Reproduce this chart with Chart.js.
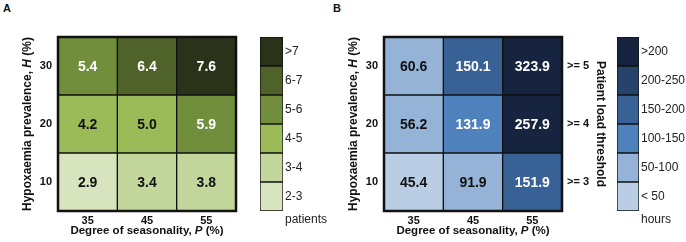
<!DOCTYPE html>
<html>
<head>
<meta charset="utf-8">
<script src="https://cdn.jsdelivr.net/npm/chart.js@4.4.0/dist/chart.umd.min.js"></script>
<style>
    body { margin: 0; background: #fff; }
    #wrap { position: relative; width: 686px; height: 242px; overflow: hidden; }
    canvas { position: absolute; top: 0; }
    .panel { position: absolute; top: 2px; font: bold 11px "Liberation Sans", Arial, sans-serif; color: #111; }
</style>
</head>
<body>
<div id="wrap">
    <div class="panel" style="left:3px">A</div>
    <div class="panel" style="left:333px">B</div>
    <canvas id="heat-a" style="left:0px" width="245" height="242"></canvas>
    <canvas id="bar-a" style="left:250px" width="90" height="242"></canvas>
    <canvas id="heat-b" style="left:343px" width="270" height="242"></canvas>
    <canvas id="bar-b" style="left:613px" width="73" height="242"></canvas>
</div>
<script>
const FONT = '"Liberation Sans", Arial, sans-serif';

// Axis categories
const seasonality = ["35", "45", "55"];      // P (%)
const prevalence = ["10", "20", "30"];       // H (%), bottom row first
const thresholds = [">= 3", ">= 4", ">= 5"]; // patient load threshold per row

// Panel A: patients (rows follow prevalence)
const patients10 = [2.9, 3.4, 3.8];
const patients20 = [4.2, 5.0, 5.9];
const patients30 = [5.4, 6.4, 7.6];

// Panel B: hours
const hours10 = [45.4, 91.9, 151.9];
const hours20 = [56.2, 131.9, 257.9];
const hours30 = [60.6, 150.1, 323.9];

// Colour bins (lowest first)
const patientBins = ["2-3", "3-4", "4-5", "5-6", "6-7", ">7"];
const patientEdges = [3, 4, 5, 6, 7];
const patientColors = ["#d7e4bd", "#c3d69b", "#9bbb59", "#718e3c", "#4f6229", "#2a331a"];

const hourBins = ["< 50", "50-100", "100-150", "150-200", "200-250", ">200"];
const hourEdges = [50, 100, 150, 200, 250];
const hourColors = ["#b9cde5", "#95b3d7", "#4f81bd", "#386296", "#26436c", "#16243f"];

function binIndex(value, edges) {
    let i = 0;
    while (i < edges.length && value > edges[i]) i++;
    return i;
}

// Draw text with some italic pieces, centred at (x, y), optionally rotated
function drawRich(ctx, parts, x, y, size, rotation) {
    ctx.save();
    ctx.translate(x, y);
    ctx.rotate(rotation || 0);
    ctx.textBaseline = "middle";
    ctx.textAlign = "left";
    ctx.fillStyle = "#111";
    let total = 0;
    parts.forEach(p => {
        ctx.font = (p.italic ? "italic " : "") + "bold " + size + "px " + FONT;
        total += ctx.measureText(p.text).width;
    });
    let cx = -total / 2;
    parts.forEach(p => {
        ctx.font = (p.italic ? "italic " : "") + "bold " + size + "px " + FONT;
        ctx.fillText(p.text, cx, 0);
        cx += ctx.measureText(p.text).width;
    });
    ctx.restore();
}

const heatPlugin = {
    id: "heatPlugin",
    afterDatasetsDraw(chart) {
        const ctx = chart.ctx;
        const opts = chart.options.plugins.heatPlugin;
        const area = chart.chartArea;

        // cell values
        chart.data.datasets.forEach((ds, di) => {
            const meta = chart.getDatasetMeta(di);
            meta.data.forEach((bar, i) => {
                const v = ds.values[i];
                const b = binIndex(v, opts.edges);
                ctx.save();
                ctx.font = "bold 14px " + FONT;
                ctx.fillStyle = b >= opts.whiteFrom ? "#ffffff" : "#111111";
                ctx.textAlign = "center";
                ctx.textBaseline = "middle";
                ctx.fillText(v.toFixed(1), bar.x, (bar.y + bar.base) / 2 + 1);
                ctx.restore();
            });
        });

        // outer frame
        ctx.save();
        ctx.strokeStyle = "#111";
        ctx.lineWidth = 2.5;
        ctx.strokeRect(area.left, area.top, area.right - area.left, area.bottom - area.top);
        ctx.restore();

        // axis titles
        const midY = (area.top + area.bottom) / 2;
        drawRich(ctx, [{ text: "Degree of seasonality, " }, { text: "P", italic: true }, { text: " (%)" }],
            (area.left + area.right) / 2, 231, 11.5, 0);
        drawRich(ctx, [{ text: "Hypoxaemia prevalence, " }, { text: "H", italic: true }, { text: " (%)" }],
            area.left - 30, midY, 12, -Math.PI / 2);
        if (opts.rightTitle) {
            drawRich(ctx, [{ text: opts.rightTitle }], area.right + 38, midY, 12, Math.PI / 2);
        }
    },
};

const legendPlugin = {
    id: "legendPlugin",
    afterDraw(chart) {
        const ctx = chart.ctx;
        const area = chart.chartArea;
        ctx.save();
        ctx.font = "12px " + FONT;
        ctx.fillStyle = "#222";
        ctx.textBaseline = "middle";
        ctx.fillText(chart.options.plugins.legendPlugin.unit, area.right + 2, area.bottom + 9);
        ctx.restore();
    },
};

function rowTicks(scale) {
    scale.ticks = [0.5, 1.5, 2.5].map(v => ({ value: v }));
}

function heatmap(canvasId, rows, colors, edges, whiteFrom, rightTitle) {
    const canvas = document.getElementById(canvasId);
    if (!canvas) {
        return;
    }

    const datasets = rows.map((values, r) => ({
        label: prevalence[r],
        values: values,
        data: values.map(() => [r, r + 1]),
        backgroundColor: values.map(v => colors[binIndex(v, edges)]),
        borderColor: "#111",
        borderWidth: 1,
        borderSkipped: false,
        barPercentage: 1,
        categoryPercentage: 1,
        grouped: false,
    }));

    const scales = {
        x: {
            type: "category",
            labels: seasonality,
            grid: { display: false, drawTicks: false },
            border: { display: false },
            ticks: { padding: 3, color: "#111", font: { family: FONT, size: 11, weight: "bold" } },
            afterFit(scale) { scale.height = 31; },
        },
        y: {
            min: 0,
            max: 3,
            grid: { display: false, drawTicks: false },
            border: { display: false },
            afterBuildTicks: rowTicks,
            ticks: {
                padding: 6,
                color: "#111",
                font: { family: FONT, size: 11, weight: "bold" },
                callback: v => prevalence[Math.floor(v)],
            },
            afterFit(scale) { scale.width = 41; },
        },
    };

    if (rightTitle) {
        scales.y2 = {
            position: "right",
            min: 0,
            max: 3,
            grid: { display: false, drawTicks: false },
            border: { display: false },
            afterBuildTicks: rowTicks,
            ticks: {
                padding: 5,
                color: "#111",
                font: { family: FONT, size: 11, weight: "bold" },
                callback: v => thresholds[Math.floor(v)],
            },
            afterFit(scale) { scale.width = 51; },
        };
    }

    new Chart(canvas, {
        type: "bar",
        data: { datasets: datasets },
        options: {
            responsive: false,
            animation: false,
            layout: {
                padding: rightTitle
                    ? { top: 37, left: 0, right: 0, bottom: 0 }
                    : { top: 37, left: 17, right: 9, bottom: 0 },
            },
            scales: scales,
            plugins: {
                legend: { display: false },
                tooltip: { enabled: false },
                heatPlugin: { edges: edges, whiteFrom: whiteFrom, rightTitle: rightTitle },
            },
        },
        plugins: [heatPlugin],
    });
}

function colorBar(canvasId, bins, colors, unit, padLeft, axisWidth) {
    const canvas = document.getElementById(canvasId);
    if (!canvas) {
        return;
    }

    const datasets = bins.map((label, i) => ({
        label: label,
        data: [[i, i + 1]],
        backgroundColor: colors[i],
        borderColor: "#111",
        borderWidth: 1,
        borderSkipped: false,
        barPercentage: 1,
        categoryPercentage: 1,
        grouped: false,
    }));

    new Chart(canvas, {
        type: "bar",
        data: { labels: [""], datasets: datasets },
        options: {
            responsive: false,
            animation: false,
            layout: { padding: { top: 37, left: padLeft, right: 0, bottom: 31 } },
            scales: {
                x: { display: false },
                y: {
                    position: "right",
                    min: 0,
                    max: 6,
                    grid: { display: false, drawTicks: false },
                    border: { display: false },
                    afterBuildTicks(scale) {
                        scale.ticks = bins.map((b, i) => ({ value: i + 0.5 }));
                    },
                    ticks: {
                        padding: 2,
                        color: "#222",
                        font: { family: FONT, size: 12 },
                        callback: v => bins[Math.floor(v)],
                    },
                    afterFit(scale) { scale.width = axisWidth; },
                },
            },
            plugins: {
                legend: { display: false },
                tooltip: { enabled: false },
                legendPlugin: { unit: unit },
            },
        },
        plugins: [legendPlugin],
    });
}

heatmap("heat-a", [patients10, patients20, patients30], patientColors, patientEdges, 3, null);
colorBar("bar-a", patientBins, patientColors, "patients", 10, 57);
heatmap("heat-b", [hours10, hours20, hours30], hourColors, hourEdges, 2, "Patient load threshold");
colorBar("bar-b", hourBins, hourColors, "hours", 4, 47);
</script>
</body>
</html>
